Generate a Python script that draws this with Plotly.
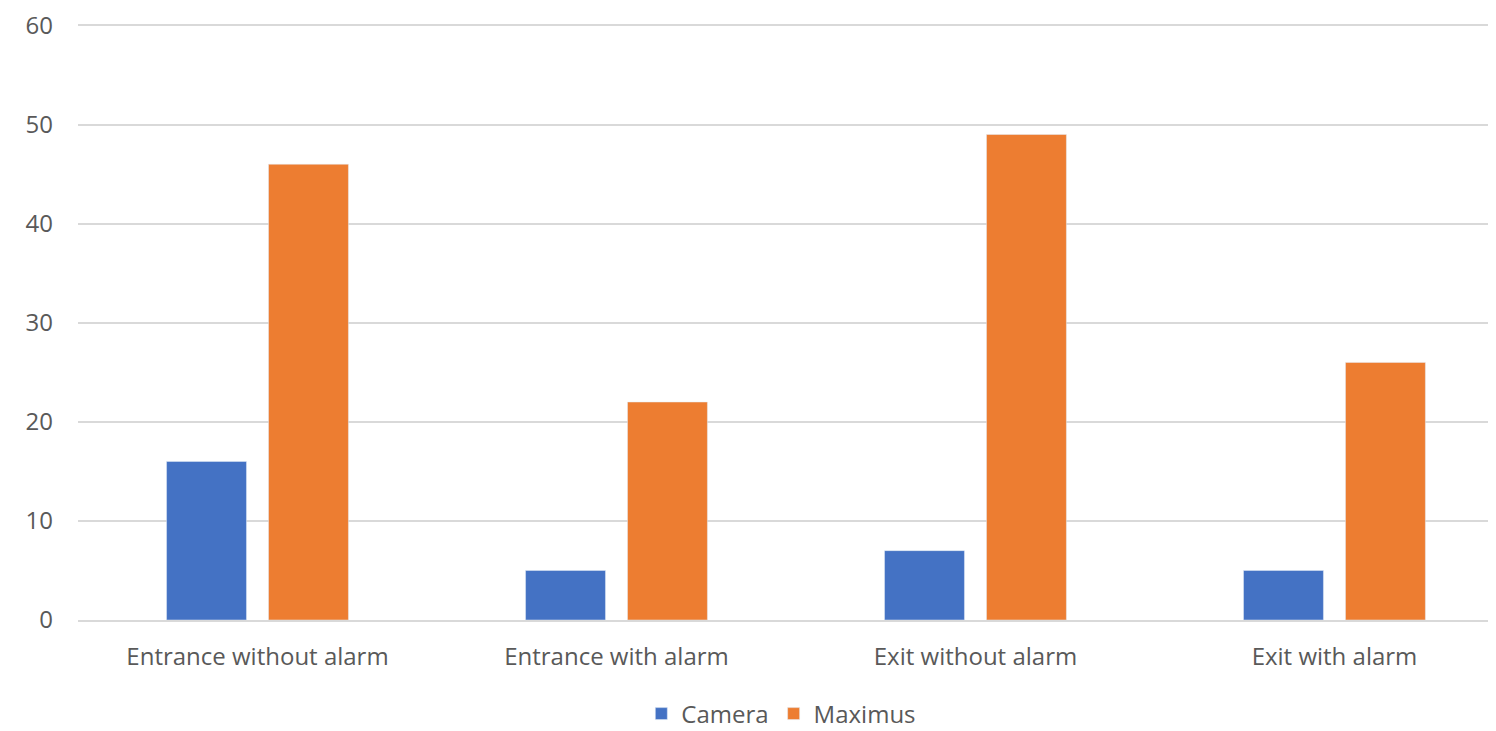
import plotly.graph_objects as go

categories = ["Entrance without alarm", "Entrance with alarm", "Exit without alarm", "Exit with alarm"]
camera = [16, 5, 7, 5]
maximus = [46, 22, 49, 26]

fig = go.Figure()
fig.add_trace(go.Bar(name="Camera", x=categories, y=camera, marker_color="#4472C4"))
fig.add_trace(go.Bar(name="Maximus", x=categories, y=maximus, marker_color="#ED7D31"))

font = dict(family="Open Sans", size=24, color="#595959")
fig.update_layout(
    width=1496, height=723,
    margin=dict(l=70, r=8, t=16, b=111),
    paper_bgcolor="white", plot_bgcolor="white",
    barmode="group", bargap=0.432, bargroupgap=0.216,
    font=font,
    legend=dict(orientation="h", x=0.496, xanchor="center", xref="paper",
                y=0.0235, yanchor="middle", yref="container",
                font=font, itemwidth=30, tracegroupgap=0),
    xaxis=dict(showgrid=False, showline=True, linecolor="#D9D9D9", linewidth=2,
               range=[-0.5, 3.45], tickfont=font, ticks="", ticklabelstandoff=14),
    yaxis=dict(range=[0, 60.15], dtick=10, showgrid=True, gridcolor="#D9D9D9", gridwidth=2,
               zeroline=False, tickfont=font, ticklabelstandoff=24, automargin=False,
               ticklabeloverflow="allow"),
)
fig.write_html("out.html")
